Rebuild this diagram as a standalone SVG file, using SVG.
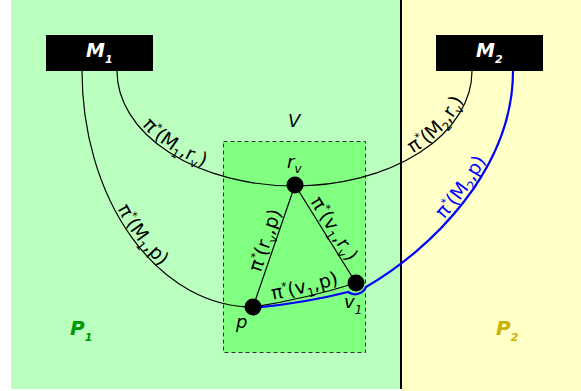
<svg xmlns="http://www.w3.org/2000/svg" width="581" height="391" viewBox="0 0 581 391">
<style>
text{font-family:"DejaVu Sans","Liberation Sans",sans-serif;}
.lbl{font-size:19px;fill:#000;}
.nl{font-size:18px;font-style:italic;fill:#000;}
.blu{fill:#0000ff;}
.sub{font-size:12px;}
.sup{font-size:11px;}
.box{fill:#000;}
.boxt{font-size:19px;font-weight:bold;font-style:italic;fill:#fff;}
.edge{fill:none;stroke:#000;stroke-width:1.2;}
.blue{fill:none;stroke:#0000ff;stroke-width:2.2;}
.node{fill:#000;}
</style>
<defs>
<path id="arcA" d="M117 71 A177.5 115 0 0 0 472 71"/>
<path id="arcB" d="M82 71 A171 236 0 0 0 253 307"/>
<path id="lnRP" d="M253 307 L295 185"/>
<path id="lnRV" d="M295 185 L356 283"/>
<path id="lnPV" d="M253 307 Q305 299 356 283"/>
<path id="blueUp" d="M366 287 C430 250 513 170 513 71"/>
</defs>
<g id="background">
<rect x="11" y="0" width="391" height="389" fill="#bbffbf"/>
<rect x="402" y="0" width="179" height="391" fill="#ffffc8"/>
<line x1="401" y1="0" x2="401" y2="389" stroke="#000" stroke-width="2"/>
</g>
<g id="region-V">
<rect x="223.5" y="141.5" width="142" height="211" fill="#80ff80" stroke="#333" stroke-width="1" stroke-dasharray="4,3"/>
<text x="288" y="127" class="nl">V</text>
</g>
<g id="region-labels">
<text x="70" y="335" font-size="20" font-weight="bold" font-style="italic" fill="#009900">P<tspan font-size="11" dy="6">1</tspan></text>
<text x="496" y="335" font-size="20" font-weight="bold" font-style="italic" fill="#c8b400">P<tspan font-size="11" dy="6">2</tspan></text>
</g>
<g id="connectors">
<use href="#arcA" class="edge"/>
<use href="#arcB" class="edge"/>
<use href="#lnRP" class="edge"/>
<use href="#lnRV" class="edge"/>
<use href="#lnPV" class="edge"/>
<path class="blue" d="M253 308 Q305 303 348 292 A12 12 0 0 0 366 287 C430 250 513 170 513 71"/>
<text class="lbl"><textPath href="#arcA" startOffset="62"><tspan dy="-3">π</tspan><tspan class="sup" dy="-7">*</tspan><tspan dy="7">(M</tspan><tspan class="sub" dy="5">1</tspan><tspan dy="-5">,r</tspan><tspan class="sub" dy="5">v</tspan><tspan dy="-5">)</tspan></textPath></text>
<text class="lbl"><textPath href="#arcA" startOffset="357"><tspan dy="-3">π</tspan><tspan class="sup" dy="-7">*</tspan><tspan dy="7">(M</tspan><tspan class="sub" dy="5">2</tspan><tspan dy="-5">,r</tspan><tspan class="sub" dy="5">v</tspan><tspan dy="-5">)</tspan></textPath></text>
<text class="lbl"><textPath href="#arcB" startOffset="144"><tspan dy="-3">π</tspan><tspan class="sup" dy="-7">*</tspan><tspan dy="7">(M</tspan><tspan class="sub" dy="5">1</tspan><tspan dy="-5">,p)</tspan></textPath></text>
<text class="lbl" text-anchor="middle"><textPath href="#lnRP" startOffset="52%"><tspan dy="-4">π</tspan><tspan class="sup" dy="-7">*</tspan><tspan dy="7">(r</tspan><tspan class="sub" dy="5">v</tspan><tspan dy="-5">,p)</tspan></textPath></text>
<text class="lbl" text-anchor="middle"><textPath href="#lnRV" startOffset="50%"><tspan dy="-4">π</tspan><tspan class="sup" dy="-7">*</tspan><tspan dy="7">(v</tspan><tspan class="sub" dy="5">1</tspan><tspan dy="-5">,r</tspan><tspan class="sub" dy="5">v</tspan><tspan dy="-5">)</tspan></textPath></text>
<text class="lbl" text-anchor="middle"><textPath href="#lnPV" startOffset="52%"><tspan dy="-4">π</tspan><tspan class="sup" dy="-7">*</tspan><tspan dy="7">(v</tspan><tspan class="sub" dy="5">1</tspan><tspan dy="-5">,p)</tspan></textPath></text>
<text class="lbl blu"><textPath href="#blueUp" startOffset="104"><tspan dy="-4">π</tspan><tspan class="sup" dy="-7">*</tspan><tspan dy="7">(M</tspan><tspan class="sub" dy="5">2</tspan><tspan dy="-5">,p)</tspan></textPath></text>
</g>
<g id="M1">
<rect class="box" x="46" y="35" width="107" height="36"/>
<text class="boxt" x="86" y="57">M<tspan font-size="11" dy="6">1</tspan></text>
</g>
<g id="M2">
<rect class="box" x="436" y="35" width="107" height="36"/>
<text class="boxt" x="476" y="57">M<tspan font-size="11" dy="6">2</tspan></text>
</g>
<g id="rv">
<circle class="node" cx="295" cy="185" r="8.5"/>
<text class="nl" x="287" y="168">r<tspan class="sub" dy="5">v</tspan></text>
</g>
<g id="p">
<circle class="node" cx="253" cy="307" r="8.5"/>
<text class="nl" x="236" y="328">p</text>
</g>
<g id="v1">
<circle class="node" cx="356" cy="283" r="8.5"/>
<text class="nl" x="344" y="308">v<tspan class="sub" dy="6">1</tspan></text>
</g>
</svg>
